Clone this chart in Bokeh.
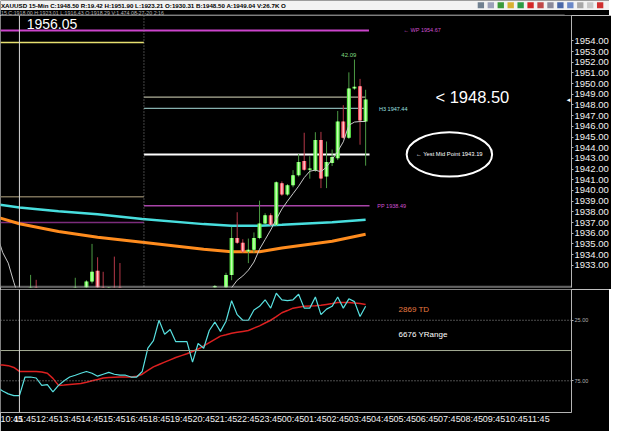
from bokeh.plotting import figure
from bokeh.layouts import column
from bokeh.models import Range1d, LinearAxis, FixedTicker, Span, Label, ColumnDataSource
from bokeh.core.properties import value
from bokeh.embed import file_html
from bokeh.resources import INLINE

FONT = "Liberation Sans"
BG = "#000000"

# ---------------- data ----------------
header_main = "XAUUSD 15-Min C:1948.50 R:19.42 H:1951.90 L:1923.21 O:1930.31 B:1948.50 A:1949.04 V:26.7K O"
header_sub = "15 C:1918.00 H:1923.01 L:1916.43 O:1918.29 V:1,474 08-27-20 2:16"

# 15-min candles (index = candle number on the time axis); only those reaching the visible price band
candle_idx = [5, 6, 13, 15, 16, 17, 18, 19, 20, 21, 38,
              40, 41, 42, 43, 44, 45, 46, 47, 48, 49, 50, 51, 52, 53, 54, 55, 56, 57, 58, 59, 60, 61, 62, 63, 64, 65]
candle_open = [1929.5, 1930.4, 1929.9, 1930.5, 1931.49, 1932.48, 1930.5, 1930.70, 1930.9, 1930.8, 1930.85,
               1930.2, 1932.1, 1935.55, 1935.1, 1934.29, 1934.45, 1935.55, 1936.91, 1937.69, 1936.79, 1940.67, 1939.61,
               1940.49, 1941.42, 1942.75, 1941.93, 1941.87, 1944.73, 1941.30, 1942.57, 1943.02, 1946.45, 1944.94,
               1949.54, 1949.76, 1946.45]
candle_high = [1932.10, 1931.64, 1931.83, 1931.60, 1935.00, 1933.75, 1932.39, 1930.95, 1933.81, 1933.21, 1931.15,
               1932.3, 1936.6, 1937.96, 1935.44, 1935.5, 1936.07, 1939.05, 1937.87, 1937.87, 1940.85, 1940.85, 1940.60,
               1941.90, 1943.40, 1945.40, 1943.20, 1945.45, 1945.48, 1944.58, 1943.83, 1947.44, 1947.98, 1951.05,
               1952.25, 1950.44, 1949.42]
candle_low = [1929.0, 1929.3, 1929.5, 1930.2, 1931.3, 1930.2, 1929.9, 1930.6, 1930.3, 1930.2, 1930.7,
              1929.8, 1931.6, 1935.0, 1934.17, 1933.2, 1934.17, 1935.44, 1936.88, 1936.70, 1936.70, 1939.50, 1939.50,
              1940.30, 1941.30, 1941.84, 1941.10, 1941.75, 1940.22, 1940.22, 1942.29, 1942.84, 1944.82, 1944.82,
              1949.42, 1944.28, 1942.32]
candle_close = [1930.4, 1929.8, 1930.5, 1931.49, 1932.39, 1930.5, 1930.2, 1930.85, 1930.7, 1930.6, 1931.05,
                1932.1, 1935.55, 1935.1, 1934.29, 1934.45, 1935.55, 1936.91, 1937.69, 1936.79, 1940.76, 1939.61, 1940.49,
                1941.42, 1942.66, 1941.93, 1942.05, 1944.73, 1941.12, 1942.66, 1943.13, 1946.45, 1944.94, 1949.54,
                1949.70, 1946.54, 1948.50]

# moving averages (sampled where read)
ma_idx = [-1, 3, 10, 17, 25, 36, 41, 46, 50, 59, 65]
ma_cyan = [1938.71, 1938.41, 1938.05, 1937.78, 1937.33, 1936.85, 1936.70, 1936.70, 1936.79, 1937.02, 1937.27]
ma_orange = [1937.51, 1936.88, 1936.16, 1935.62, 1935.16, 1934.49, 1934.26, 1934.26, 1934.62, 1935.25, 1935.91]
thin_idx = [-1, 0, 1, 2, 3, 40, 41, 42, 43, 44, 45, 46, 47, 48, 49, 50, 51, 52, 53, 54, 55, 56, 57, 58, 59,
            60, 61, 62, 63, 64, 65]
thin_ma = [1935.8, 1934.2, 1933.2, 1931.4, 1929.8, 1929.9, 1930.9, 1931.6, 1932.0, 1932.54, 1933.3, 1934.5,
           1935.4, 1936.3, 1937.3, 1938.26, 1939.0, 1939.7, 1940.4, 1941.2, 1941.8, 1941.9, 1941.75, 1942.2,
           1942.9, 1943.65, 1944.55, 1946.1, 1946.4, 1946.45, 1946.45]

# horizontal levels: price, start candle, end candle
level_price = [1954.97, 1953.85, 1939.41, 1937.00, 1948.73, 1947.68, 1943.37, 1938.58]
level_from = [-0.4, -0.4, -0.4, -0.4, 25.3, 25.3, 25.3, 25.3]
level_to = [65.6, 25.3, 25.3, 25.3, 65.0, 65.0, 65.7, 65.7]
level_color = ["#cc44cc", "#e6e070", "#7a7058", "#7c2c7c", "#b0b09a", "#86b0ae", "#ffffff", "#a844a8"]
level_width = [2, 1.5, 1.5, 1.5, 1.2, 1.2, 2, 1.5]

last_price = 1948.50
price_ticks = list(range(1933, 1955))

# stochastic (index -1 .. 65)
sto_idx = list(range(-1, 66))
sto_k = [80.5,
         83.5, 85.8, 87.3, 87.3, 71.9, 71.9, 72.7, 78.8, 78.1, 84.2,
         78.8, 75.0, 71.9, 70.4, 68.8, 67.3, 68.8, 71.2, 69.6, 68.1,
         69.6, 70.4, 70.4, 71.9, 71.9, 67.3, 48.1, 41.9, 25.0, 36.5,
         32.7, 42.7, 42.7, 42.7, 59.6, 44.2, 48.1, 33.5, 26.5, 34.2,
         25.8, 8.8, 20.4, 25.0, 25.0, 16.5, 13.5, 8.1, 15.0, 2.7,
         8.1, 8.8, 8.1, 3.5, 15.0, 15.0, 5.8, 20.4, 15.8, 13.5,
         5.8, 15.0, 7.3, 9.6, 21.9, 13.5]
sto_d = [61.9,
         62.0, 62.5, 64.0, 67.3, 67.3, 67.3, 67.3, 67.8, 68.8, 73.0,
         78.8, 78.5, 78.1, 77.7, 77.3, 76.2, 75.0, 74.0, 72.7, 72.3,
         72.0, 71.9, 71.9, 71.9, 71.2, 69.6, 66.5, 63.5, 61.5, 59.6,
         57.7, 55.8, 54.2, 52.7, 50.8, 48.8, 46.2, 43.5, 40.8, 38.1,
         37.0, 35.8, 35.0, 34.2, 33.5, 31.5, 29.6, 27.3, 25.0, 22.0,
         18.8, 17.0, 15.0, 14.2, 13.5, 13.2, 13.0, 12.7, 11.9, 11.2,
         10.4, 10.4, 10.4, 10.8, 11.2, 11.9]

hour_labels = ["10:45", "11:45", "12:45", "13:45", "14:45", "15:45", "16:45", "18:45", "19:45", "20:45",
               "21:45", "22:45", "23:45", "00:45", "01:45", "02:45", "03:45", "04:45", "05:45", "06:45",
               "07:45", "08:45", "09:45", "10:45", "11:45"]
date_label = "Aug 28 Fri"
crosshair_idx = 3
day_break = 25.3

icon_colors = ["#708090", "#9aa0b8", "#3a9a3a", "#d8b030", "#2c9c44", "#d42828", "#c04848",
               "#8a8a9a", "#4a68a8", "#6a88c8", "#a8a8a8", "#c8c8c8", "#d03030"]

# ---------------- layout constants ----------------
FW = 571
xr = Range1d(-0.39, 101.87)


def base(**kw):
    p = figure(output_backend="svg", toolbar_location=None, background_fill_color=BG,
               border_fill_color=BG, outline_line_color=None,
               x_axis_location=None, y_axis_location=None, **kw)
    p.grid.visible = False
    return p


# ---------------- header ----------------
hdr = base(frame_width=609, frame_height=15, x_range=Range1d(0, 625), y_range=Range1d(16, 0), min_border=0)
hdr.quad(left=[0], right=[625], top=[0], bottom=[10], fill_color="#f2f2f2", line_color=None)
hdr.text(x=[0.5], y=[5.4], text=[header_main], text_font=value(FONT), text_font_size="6.2px",
         text_font_style="bold", text_color="#000000", text_baseline="middle")
hdr.text(x=[0.5], y=[13.0], text=[header_sub], text_font=value(FONT), text_font_size="5.3px",
         text_color="#b4b4b4", text_baseline="middle")
hdr.segment(x0=[0], x1=[579], y0=[15.6], y1=[15.6], line_color="#9a9a9a", line_width=1)
icon_x = [493 + 10.2 * k for k in range(len(icon_colors))]
hdr.rect(x=icon_x, y=[5] * len(icon_x), width=6.5, height=6.5, fill_color=icon_colors, line_color=None)

# ---------------- price panel ----------------
pp = base(frame_width=FW, frame_height=272, x_range=xr, y_range=Range1d(1930.92, 1956.37),
          min_border_left=0, min_border_top=0, min_border_bottom=2, min_border_right=38)
ya = LinearAxis(ticker=FixedTicker(ticks=price_ticks),
                major_label_overrides={t: f"{t:.2f}" for t in price_ticks})
ya.axis_line_color = "#b4b4b4"
ya.major_tick_line_color = "#b4b4b4"
ya.major_tick_out = 2
ya.major_tick_in = 0
ya.minor_tick_line_color = None
ya.major_label_standoff = 1
ya.major_label_text_color = "#f0f0f0"
ya.major_label_text_font = FONT
ya.major_label_text_font_size = "9.5px"
pp.add_layout(ya, "right")

pp.add_layout(Span(location=day_break, dimension="height", line_color="#8a8a8a", line_dash="1 2", line_width=1))

lv = ColumnDataSource(dict(y=level_price, x0=level_from, x1=level_to, c=level_color, w=level_width))
pp.segment(x0="x0", x1="x1", y0="y", y1="y", line_color="c", line_width="w", source=lv)

pp.line(ma_idx, ma_cyan, line_color="#48dede", line_width=2.5)
pp.line(ma_idx, ma_orange, line_color="#ff8c1e", line_width=3)

up = [c >= o for o, c in zip(candle_open, candle_close)]
cs = ColumnDataSource(dict(
    x=candle_idx, high=candle_high, low=candle_low,
    top=[max(o, c) for o, c in zip(candle_open, candle_close)],
    bot=[min(o, c) for o, c in zip(candle_open, candle_close)],
    wick=["#4c9a44" if u else "#b43848" for u in up],
    body=["#5ef04a" if u else "#f2505e" for u in up],
    hi=["#c8ffb4" if u else "#ffc4cc" for u in up],
))
pp.segment(x0="x", x1="x", y0="low", y1="high", line_color="wick", line_width=1, source=cs)
pp.vbar(x="x", width=0.72, top="top", bottom="bot", fill_color="body", line_color=None, source=cs)
pp.vbar(x="x", width=0.26, top="top", bottom="bot", fill_color="hi", line_color=None, source=cs)

pp.line(thin_idx, thin_ma, line_color="#c8c8c8", line_width=1)

pp.add_layout(Span(location=crosshair_idx, dimension="height", line_color="#d6d6d6", line_width=1))
pp.add_layout(Span(location=1930.98, dimension="width", line_color="#c4c4c4", line_dash="1 1", line_width=2))

pp.text(x=[4.3], y=[1955.56], text=["1956.05"], text_font=value(FONT), text_font_size="14px",
        text_color="#ffffff", text_baseline="middle")
pp.text(x=[71.8], y=[1954.97], text=["\u2190 WP 1954.67"], text_font=value(FONT), text_font_size="5.5px",
        text_color="#d050d0", text_baseline="middle")
pp.text(x=[62.0], y=[1952.67], text=["42.09"], text_font=value(FONT), text_font_size="6px",
        text_color="#80dc80", text_baseline="middle", text_align="center")
pp.text(x=[67.4], y=[1947.66], text=["H3 1947.44"], text_font=value(FONT), text_font_size="5.5px",
        text_color="#9ee0e0", text_baseline="middle")
pp.text(x=[67.1], y=[1938.58], text=["PP 1938.49"], text_font=value(FONT), text_font_size="5.5px",
        text_color="#d050d0", text_baseline="middle")
pp.text(x=[77.5], y=[1948.70], text=["< 1948.50"], text_font=value(FONT), text_font_size="16.5px",
        text_color="#ffffff", text_baseline="middle")
pp.ellipse(x=[80.0], y=[1943.37], width=15.3, height=4.15, fill_color=None, line_color="#ffffff", line_width=2)
pp.text(x=[74.0], y=[1943.37], text=["\u2190 Yest Mid Point 1943.19"], text_font=value(FONT),
        text_font_size="5.8px", text_color="#ffffff", text_baseline="middle")

pp.add_layout(Label(x=101.87, y=last_price, text="\u25c4", text_color="#ffffff", text_font_size="6px",
                    text_align="right", text_baseline="middle"))
pp.add_layout(Label(x=102.05, y=last_price, text="1948.50", text_color="#000000", text_font=FONT,
                    text_font_size="9.5px", text_baseline="middle", background_fill_color="#ffffff"))

# ---------------- stochastic panel ----------------
SY = Range1d(101.2, -0.4)
ps = base(frame_width=FW, frame_height=123, x_range=xr, y_range=SY,
          min_border_left=0, min_border_top=0, min_border_bottom=19, min_border_right=38)
hour_ticks = [4 * k for k in range(len(hour_labels))]
xa = LinearAxis(ticker=FixedTicker(ticks=hour_ticks),
                major_label_overrides={t: s for t, s in zip(hour_ticks, hour_labels)})
xa.axis_line_color = "#b4b4b4"
xa.major_tick_line_color = None
xa.major_tick_out = 0
xa.minor_tick_line_color = None
xa.major_label_standoff = 1
xa.major_label_text_color = "#f0f0f0"
xa.major_label_text_font = FONT
xa.major_label_text_font_size = "9px"
ps.add_layout(xa, "below")

sa = LinearAxis(ticker=FixedTicker(ticks=[25, 75]), major_label_overrides={25: "25.00", 75: "75.00"})
sa.axis_line_color = "#b4b4b4"
sa.major_tick_line_color = "#b4b4b4"
sa.major_tick_out = 2
sa.major_tick_in = 0
sa.minor_tick_line_color = None
sa.major_label_standoff = 1
sa.major_label_text_color = "#b0b0b0"
sa.major_label_text_font = FONT
sa.major_label_text_font_size = "5.5px"
ps.add_layout(sa, "right")

for lvl in (25, 75):
    ps.add_layout(Span(location=lvl, dimension="width", line_color="#9a9a9a", line_dash="1 2", line_width=1))
ps.add_layout(Span(location=50, dimension="width", line_color="#a4ac94", line_width=1))
ps.add_layout(Span(location=crosshair_idx, dimension="height", line_color="#d6d6d6", line_width=1))

ps.line(sto_idx, sto_d, line_color="#dc2020", line_width=1.5)
ps.line(sto_idx, sto_k, line_color="#58e0e0", line_width=1.2)

ps.text(x=[70.9], y=[16.5], text=["2869 TD"], text_font=value(FONT), text_font_size="8px",
        text_color="#e87a40", text_baseline="middle")
ps.text(x=[70.9], y=[36.5], text=["6676 YRange"], text_font=value(FONT), text_font_size="8px",
        text_color="#ffffff", text_baseline="middle")
ps.add_layout(Label(x=102.05, y=50, text="STO 15,", text_color="#ffffff", text_font=FONT,
                    text_font_size="8.5px", text_baseline="middle"))
px_per_unit = 123 / (SY.start - SY.end)
ps.add_layout(Label(x=52.6, y=SY.start + 11.5 / px_per_unit, text=date_label, text_color="#f0f0f0",
                    text_font=FONT, text_font_size="6.5px", text_align="center", text_baseline="top"))

layout = column(hdr, pp, ps, spacing=0)
open("out.html", "w").write(file_html(layout, INLINE))
